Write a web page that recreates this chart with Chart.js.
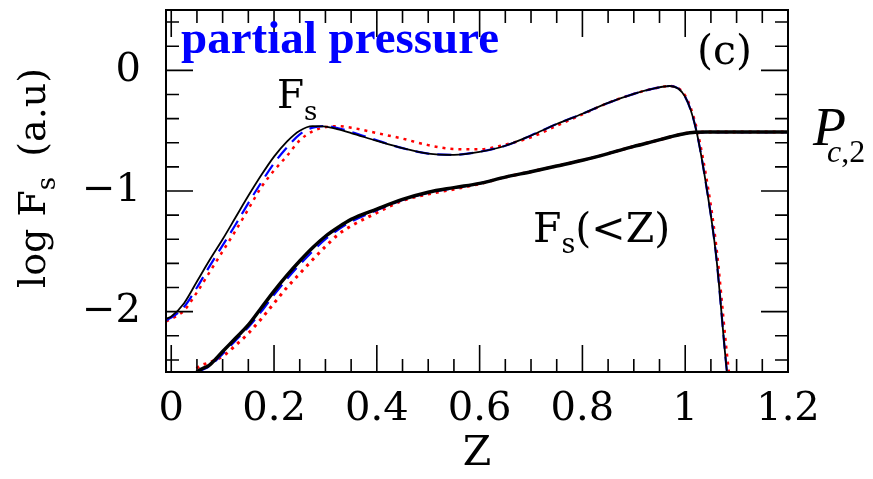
<!DOCTYPE html>
<html lang="en">
<head>
    <meta charset="UTF-8">
    <title>log Fs vs Z</title>
    <style>
        body { margin: 0; background: #fff; }
        #wrap { width: 873px; height: 479px; }
    </style>
</head>
<body>
    <div id="wrap"><canvas id="fsChart" width="873" height="479"></canvas></div>

    <script src="https://cdn.jsdelivr.net/npm/chart.js"></script>
    <script>
        // Z grid shared by all curves
        const zGrid = [-0.01, 0, 0.025, 0.05, 0.075, 0.1, 0.125, 0.15, 0.175, 0.2,
                       0.225, 0.25, 0.275, 0.3, 0.325, 0.35, 0.4, 0.45, 0.5, 0.55,
                       0.6, 0.65, 0.7, 0.75, 0.8, 0.85, 0.9, 0.94, 0.97, 1.0,
                       1.02, 1.04, 1.06, 1.08, 1.1, 1.15, 1.2];

        // log Fs (differential)
        const fsSolid = [-2.06, -2.04, -1.93, -1.75, -1.57, -1.40, -1.22, -1.04, -0.87, -0.715,
                         -0.59, -0.50, -0.462, -0.466, -0.49, -0.52, -0.585, -0.645, -0.69, -0.70,
                         -0.675, -0.625, -0.54, -0.445, -0.36, -0.27, -0.195, -0.15, -0.13, -0.22,
                         -0.47, -0.93, -1.53, -2.45, -3.2, null, null];
        const fsDashed = [-2.07, -2.05, -1.96, -1.80, -1.62, -1.45, -1.28, -1.10, -0.93, -0.77,
                          -0.64, -0.53, -0.475, -0.462, -0.48, -0.51, -0.58, -0.645, -0.69, -0.70,
                          -0.675, -0.625, -0.54, -0.445, -0.36, -0.27, -0.195, -0.15, -0.13, -0.22,
                          -0.47, -0.93, -1.53, -2.45, -3.2, null, null];
        const fsDotted = [-2.08, -2.06, -1.99, -1.84, -1.67, -1.50, -1.33, -1.15, -0.97, -0.83,
                          -0.71, -0.58, -0.505, -0.47, -0.463, -0.475, -0.52, -0.566, -0.62, -0.652,
                          -0.655, -0.615, -0.555, -0.46, -0.365, -0.27, -0.195, -0.15, -0.13, -0.21,
                          -0.44, -0.86, -1.44, -2.30, -3.1, null, null];

        // log Fs(<Z) (cumulative)
        const cumSolid = [null, null, -2.65, -2.50, -2.44, -2.33, -2.22, -2.11, -1.97, -1.83,
                          -1.70, -1.58, -1.47, -1.375, -1.30, -1.235, -1.15, -1.07, -1.01, -0.972,
                          -0.937, -0.885, -0.84, -0.793, -0.745, -0.69, -0.63, -0.587, -0.553, -0.523,
                          -0.514, -0.512, -0.512, -0.512, -0.512, -0.512, -0.512];
        const cumDashed = [null, null, -2.66, -2.51, -2.45, -2.35, -2.24, -2.13, -2.00, -1.86,
                           -1.73, -1.61, -1.50, -1.40, -1.32, -1.255, -1.16, -1.075, -1.015, -0.975,
                           -0.937, -0.885, -0.84, -0.793, -0.745, -0.69, -0.63, -0.587, -0.553, -0.523,
                           -0.514, -0.512, -0.512, -0.512, -0.512, -0.512, -0.512];
        const cumDotted = [null, null, -2.64, -2.47, -2.42, -2.37, -2.28, -2.18, -2.06, -1.93,
                           -1.80, -1.685, -1.57, -1.46, -1.36, -1.29, -1.18, -1.08, -1.025, -0.985,
                           -0.94, -0.885, -0.84, -0.793, -0.745, -0.69, -0.63, -0.587, -0.553, -0.523,
                           -0.514, -0.512, -0.512, -0.512, -0.512, -0.512, -0.512];

        const xTicks = [0, 0.2, 0.4, 0.6, 0.8, 1.0, 1.2];
        const yTicks = [-2, -1, 0];

        const toPoints = arr => zGrid.map((z, i) => ({ x: z, y: arr[i] }));

        function line(data, color, width, dash) {
            return {
                data: toPoints(data),
                borderColor: color,
                borderWidth: width,
                borderDash: dash,
                pointRadius: 0,
                fill: false,
                cubicInterpolationMode: 'monotone',
                spanGaps: false
            };
        }

        // draw text pieces one after another (for subscripts)
        function rich(ctx, x, y, parts) {
            let cx = x;
            parts.forEach(p => {
                ctx.font = p.font;
                ctx.fillText(p.t, cx, y + (p.dy || 0));
                cx += ctx.measureText(p.t).width + (p.gap || 0);
            });
        }

        const framePlugin = {
            id: 'frame',
            afterDatasetsDraw(chart) {
                const ctx = chart.ctx;
                const a = chart.chartArea;
                const xs = chart.scales.x, ys = chart.scales.y;
                ctx.save();
                ctx.strokeStyle = '#000';
                ctx.lineWidth = 2;
                ctx.strokeRect(a.left, a.top, a.right - a.left, a.bottom - a.top);
                ctx.lineWidth = 1.6;
                ctx.beginPath();
                for (let i = 0; i <= 24; i++) {
                    const v = i * 0.05;
                    const px = xs.getPixelForValue(v);
                    const len = (i % 4 === 0) ? 27 : 13;
                    ctx.moveTo(px, a.bottom); ctx.lineTo(px, a.bottom - len);
                    ctx.moveTo(px, a.top); ctx.lineTo(px, a.top + len);
                }
                for (let i = -12; i <= 2; i++) {
                    const v = i * 0.2;
                    const py = ys.getPixelForValue(v);
                    const len = (i % 5 === 0) ? 27 : 13;
                    ctx.moveTo(a.left, py); ctx.lineTo(a.left + len, py);
                    ctx.moveTo(a.right, py); ctx.lineTo(a.right - len, py);
                }
                ctx.stroke();
                ctx.restore();
            },
            afterDraw(chart) {
                const ctx = chart.ctx;
                ctx.save();
                ctx.textBaseline = 'alphabetic';
                ctx.textAlign = 'left';

                ctx.fillStyle = '#0000ff';
                ctx.font = 'bold 47px "Liberation Serif"';
                ctx.fillText('partial pressure', 181, 53);

                ctx.fillStyle = '#000';
                ctx.font = '41px "DejaVu Serif"';
                ctx.fillText('(c)', 697, 64);

                rich(ctx, 277, 108, [
                    { t: 'F', font: '39px "DejaVu Serif"' },
                    { t: 's', font: '26px "DejaVu Serif"', dy: 12 }
                ]);
                rich(ctx, 533, 242, [
                    { t: 'F', font: '41px "DejaVu Serif"' },
                    { t: 's', font: '27px "DejaVu Serif"', dy: 11 },
                    { t: '(<Z)', font: '41px "DejaVu Serif"' }
                ]);
                rich(ctx, 813, 145, [
                    { t: 'P', font: 'italic 54px "Liberation Serif"', gap: -19 },
                    { t: 'c', font: 'italic 32px "Liberation Serif"', dy: 17 },
                    { t: ',2', font: '32px "Liberation Serif"', dy: 17 }
                ]);

                // y axis title, rotated
                ctx.translate(45, 288);
                ctx.rotate(-Math.PI / 2);
                rich(ctx, 0, 0, [
                    { t: 'log F', font: '38px "DejaVu Serif"' },
                    { t: 's', font: '26px "DejaVu Serif"', dy: 10, gap: 8 },
                    { t: ' (a.u)', font: '38px "DejaVu Serif"' }
                ]);
                ctx.restore();
            }
        };

        const ctx = document.getElementById('fsChart').getContext('2d');
        const fsChart = new Chart(ctx, {
            type: 'line',
            data: {
                datasets: [
                    line(fsSolid, '#000', 1.8, []),
                    line(cumSolid, '#000', 3.5, []),
                    line(fsDashed, '#0000ff', 2.2, [14, 8]),
                    line(cumDashed, '#0000ff', 2.2, [14, 8]),
                    line(fsDotted, '#ff0000', 2.5, [3, 5]),
                    line(cumDotted, '#ff0000', 3, [3, 5])
                ]
            },
            options: {
                responsive: false,
                animation: false,
                layout: { padding: { left: 0, top: 10, right: 85, bottom: 0 } },
                plugins: {
                    legend: { display: false },
                    tooltip: { enabled: false }
                },
                scales: {
                    x: {
                        type: 'linear',
                        min: -0.0102,
                        max: 1.2,
                        grid: { display: false, drawTicks: false },
                        border: { display: false },
                        afterBuildTicks: s => { s.ticks = xTicks.map(v => ({ value: v })); },
                        afterFit: s => { s.height = 107; s.paddingLeft = 0; s.paddingRight = 0; },
                        ticks: {
                            color: '#000',
                            padding: 14,
                            maxRotation: 0,
                            font: { family: 'DejaVu Serif', size: 40 },
                            callback: v => String(Math.round(v * 10) / 10)
                        },
                        title: {
                            display: true,
                            text: 'Z',
                            color: '#000',
                            padding: 0,
                            font: { family: 'DejaVu Serif', size: 41 }
                        }
                    },
                    y: {
                        type: 'linear',
                        min: -2.5,
                        max: 0.5,
                        grid: { display: false, drawTicks: false },
                        border: { display: false },
                        afterBuildTicks: s => { s.ticks = yTicks.map(v => ({ value: v })); },
                        afterFit: s => { s.width = 166; s.paddingTop = 0; s.paddingBottom = 0; },
                        ticks: {
                            color: '#000',
                            padding: 25,
                            font: { family: 'DejaVu Serif', size: 40 },
                            callback: v => v < 0 ? '\u2212' + Math.abs(v) : String(v)
                        }
                    }
                }
            },
            plugins: [framePlugin]
        });
    </script>
</body>
</html>
